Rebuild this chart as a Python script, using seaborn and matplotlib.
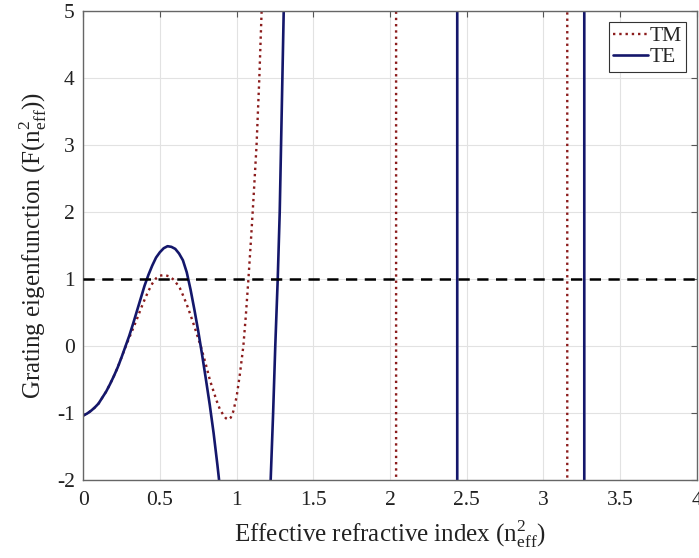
import matplotlib
matplotlib.use("Agg")
import matplotlib.pyplot as plt
import numpy as np
import pandas as pd
import seaborn as sns

# === data ===
TE_X = [0.000, 0.025, 0.050, 0.075, 0.100, 0.125, 0.150, 0.175, 0.200, 0.225,
        0.250, 0.275, 0.300, 0.325, 0.350, 0.375, 0.400, 0.425, 0.450, 0.475,
        0.500, 0.525, 0.550, 0.575, 0.600, 0.625, 0.650, 0.675, 0.700, 0.725,
        0.750, 0.775, 0.800, 0.825, 0.850, 0.875, 0.900, 0.950, 1.000, 1.050,
        1.100, 1.150, 1.200, 1.222, 1.238, 1.252, 1.268, 1.281, 1.294, 1.307,
        1.330, 1.500, 2.000, 2.430, 2.446, 2.700, 3.000, 3.258, 3.274, 3.500, 4.000]
TE_Y = [-1.04, -1.01, -0.97, -0.92, -0.86, -0.77, -0.68, -0.57, -0.45, -0.32,
        -0.17, -0.01, 0.15, 0.33, 0.52, 0.71, 0.90, 1.06, 1.20, 1.32,
        1.40, 1.46, 1.49, 1.48, 1.45, 1.38, 1.28, 1.10, 0.84, 0.54,
        0.22, -0.13, -0.50, -0.88, -1.30, -1.78, -2.30, -3.40, -4.40, -5.00,
        -5.10, -4.70, -3.50, -2.00, -1.00, 0.00, 1.00, 2.00, 3.50, 5.00,
        7.20, 30.0, 200.0, 2000.0, -2000.0, -200.0, -300.0, -2000.0, 2000.0, 300.0, 150.0]

TM_X = [0.000, 0.025, 0.050, 0.075, 0.100, 0.125, 0.150, 0.175, 0.200, 0.225,
        0.250, 0.275, 0.300, 0.325, 0.350, 0.375, 0.400, 0.425, 0.450, 0.475,
        0.500, 0.530, 0.560, 0.590, 0.610, 0.631, 0.650, 0.675, 0.700, 0.725,
        0.750, 0.766, 0.800, 0.826, 0.850, 0.870, 0.890, 0.913, 0.930, 0.946,
        0.962, 0.978, 1.000, 1.022, 1.044, 1.060, 1.077, 1.094, 1.110, 1.130,
        1.148, 1.163, 1.180, 1.400, 1.800, 2.030, 2.049, 2.300, 2.800, 3.147,
        3.163, 3.400, 4.000]
TM_Y = [-1.04, -1.01, -0.97, -0.92, -0.86, -0.77, -0.68, -0.57, -0.45, -0.32,
        -0.17, -0.02, 0.12, 0.26, 0.40, 0.55, 0.69, 0.82, 0.93, 1.01,
        1.05, 1.06, 1.04, 0.99, 0.93, 0.86, 0.76, 0.62, 0.46, 0.29,
        0.11, 0.00, -0.28, -0.51, -0.68, -0.82, -0.94, -1.03, -1.08, -1.10,
        -1.07, -0.98, -0.76, -0.41, 0.00, 0.45, 1.00, 1.60, 2.20, 3.00,
        4.00, 5.00, 6.20, 40.0, 300.0, 2000.0, -2000.0, -200.0, -250.0, -2000.0,
        2000.0, 250.0, 120.0]

THRESHOLD = 1.0
X_TICKS = [0, 0.5, 1, 1.5, 2, 2.5, 3, 3.5, 4]
X_TICK_LABELS = ["0", "0.5", "1", "1.5", "2", "2.5", "3", "3.5", "4"]
Y_TICKS = [-2, -1, 0, 1, 2, 3, 4, 5]

TE_COLOR = "#14176b"
TM_COLOR = "#8b1c1c"

sns.set_style("whitegrid")
plt.rcParams["font.family"] = ["Liberation Serif", "DejaVu Serif"]
plt.rcParams["mathtext.fontset"] = "custom"
plt.rcParams["mathtext.rm"] = "Liberation Serif"
plt.rcParams["mathtext.it"] = "Liberation Serif:italic"
plt.rcParams["axes.unicode_minus"] = False

df_te = pd.DataFrame({"x": TE_X, "y": TE_Y})
df_tm = pd.DataFrame({"x": TM_X, "y": TM_Y})

fig = plt.figure(figsize=(6.99, 5.58), dpi=100)
ax = fig.add_axes([0.119, 0.14, 0.878, 0.84])

sns.lineplot(data=df_tm, x="x", y="y", ax=ax, color=TM_COLOR, lw=1.7,
             linestyle=":", sort=False, estimator=None, label="TM")
sns.lineplot(data=df_te, x="x", y="y", ax=ax, color=TE_COLOR, lw=1.9,
             sort=False, estimator=None, label="TE")
ax.axhline(THRESHOLD, color="black", lw=1.8, ls=(0, (4.5, 3)), zorder=3)

ax.set_xlim(0, 4)
ax.set_ylim(-2, 5)
ax.set_xticks(X_TICKS)
ax.set_xticklabels(X_TICK_LABELS)
ax.set_yticks(Y_TICKS)
ax.tick_params(direction="in", length=4, labelsize=15.5, colors="#555555",
               labelcolor="#222222", top=True, right=True)
ax.tick_params(axis="x", pad=8)
ax.tick_params(axis="y", pad=6)
ax.grid(True, color="#e2e2e2", lw=0.8)
for s in ax.spines.values():
    s.set_color("#666666")
    s.set_linewidth(1.0)

ax.set_xlabel(r"Effective refractive index (n$^{2}_{\mathrm{eff}}$)", fontsize=18,
              color="#222222", labelpad=6)
ax.set_ylabel(r"Grating eigenfunction (F(n$^{2}_{\mathrm{eff}}$))", fontsize=18,
              color="#222222", labelpad=6)

leg = ax.legend(loc="upper right", fontsize=15.5, handlelength=1.6, handletextpad=0.1,
                borderpad=0.2, labelspacing=0.05, fancybox=False, framealpha=1,
                edgecolor="#333333", borderaxespad=0.5)
leg.get_frame().set_linewidth(0.8)

fig.savefig("out.png", dpi=100)
